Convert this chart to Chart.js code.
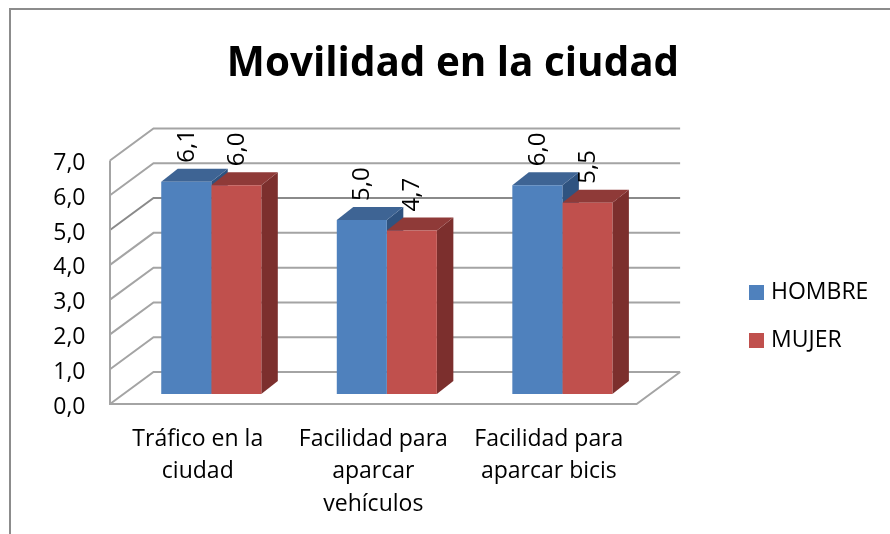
<!DOCTYPE html>
<html><head><meta charset="utf-8">
<script src="https://cdn.jsdelivr.net/npm/chart.js@4"></script>
<style>html,body{margin:0;padding:0;background:#fff}canvas{display:block}</style>
</head><body><canvas id="c" width="890" height="534"></canvas>
<script>
const categories = [["Tráfico en la","ciudad"],["Facilidad para","aparcar","vehículos"],["Facilidad para","aparcar bicis"]];
const hombre = [6.1,5.0,6.0];
const mujer = [6.0,4.7,5.5];
const titleText = "Movilidad en la ciudad";
const FONT = '"Open Sans", sans-serif';
const fmt = v => Number(v).toFixed(1).replace('.',',');
const faces = [{top:'#3e6494',side:'#2f5380'},{top:'#8f3a38',side:'#7c2f2d'}];
const front = {dx:-13.5,dy:10}, back = {dx:30,dy:-22}, depth = {dx:16.5,dy:-13};

const scene = {
  id:'scene',
  afterLayout(chart){
    const l = chart.legend, w = l.right-l.left;
    l.left = 728.5; l.right = 728.5+w;
    l.top += 49.5; l.bottom += 49.5;
    chart.titleBlock.left = 16; chart.titleBlock.right = 890;
  },
  beforeDraw(chart){
    const c = chart.ctx; c.save();
    c.strokeStyle='#8c8c8c'; c.lineWidth=2;
    c.beginPath(); c.moveTo(10,534); c.lineTo(10,9); c.lineTo(890,9); c.stroke();
    c.restore();
  },
  beforeDatasetsDraw(chart){
    const c = chart.ctx, y = chart.scales.y, a = chart.chartArea;
    c.save(); c.lineWidth=2;
    y.ticks.forEach(t=>{
      const p = y.getPixelForValue(t.value);
      c.strokeStyle = t.value===5 ? '#8a8a8a' : '#a4a4a4';
      c.beginPath();
      c.moveTo(a.left+front.dx,p+front.dy);
      c.lineTo(a.left+back.dx,p+back.dy);
      c.lineTo(a.right+back.dx,p+back.dy);
      c.stroke();
    });
    c.strokeStyle='#a4a4a4';
    const p0=y.getPixelForValue(0), p7=y.getPixelForValue(y.max);
    c.beginPath();
    c.moveTo(a.left+front.dx,p7+front.dy);
    c.lineTo(a.left+front.dx,p0+front.dy);
    c.lineTo(a.right+front.dx,p0+front.dy);
    c.lineTo(a.right+back.dx,p0+back.dy);
    c.stroke();
    chart.data.datasets.forEach((d,i)=>{
      chart.getDatasetMeta(i).data.forEach(b=>{
        const L=b.x-b.width/2,R=b.x+b.width/2,T=b.y,B=b.base;
        c.fillStyle=faces[i].side;
        c.beginPath();c.moveTo(R,T);c.lineTo(R+depth.dx,T+depth.dy);c.lineTo(R+depth.dx,B+depth.dy);c.lineTo(R,B);c.closePath();c.fill();
        c.fillStyle=faces[i].top;
        c.beginPath();c.moveTo(L,T);c.lineTo(L+depth.dx,T+depth.dy);c.lineTo(R+depth.dx,T+depth.dy);c.lineTo(R,T);c.closePath();c.fill();
      });
    });
    c.restore();
  },
  afterDatasetsDraw(chart){
    const c = chart.ctx;
    c.save(); c.fillStyle='#000'; c.font='24px '+FONT; c.textAlign='left'; c.textBaseline='middle';
    chart.data.datasets.forEach((d,i)=>{
      chart.getDatasetMeta(i).data.forEach((b,j)=>{
        c.save(); c.translate(b.x+0.5,b.y-19); c.rotate(-Math.PI/2);
        c.fillText(fmt(d.data[j]),0,0); c.restore();
      });
    });
    c.restore();
  }
};

new Chart(document.getElementById('c'),{
  type:'bar',
  data:{labels:categories,datasets:[
    {label:'HOMBRE',data:hombre,backgroundColor:'#4f81bd',categoryPercentage:0.57,barPercentage:1},
    {label:'MUJER',data:mujer,backgroundColor:'#c0504d',categoryPercentage:0.57,barPercentage:1}
  ]},
  options:{
    responsive:false,animation:false,
    layout:{padding:{left:16,right:90,top:0,bottom:0}},
    scales:{
      x:{grid:{display:false,drawTicks:false},border:{display:false},
        afterFit(s){s.height=140;},
        ticks:{color:'#000',font:{family:FONT,size:23,lineHeight:1.41},maxRotation:0,minRotation:0,autoSkip:false,labelOffset:-13.5,padding:29}},
      y:{min:0,max:7,grid:{display:false,drawTicks:false},border:{display:false},
        afterFit(s){s.width=107.5;},
        ticks:{stepSize:1,color:'#000',font:{family:FONT,size:23},padding:38,labelOffset:13,callback:v=>fmt(v)}}
    },
    plugins:{
      tooltip:{enabled:false},
      title:{display:true,text:titleText,color:'#000',font:{family:FONT,size:40.4,weight:'bold'},padding:{top:40,bottom:62}},
      legend:{position:'right',labels:{color:'#000',font:{family:FONT,size:23},boxWidth:6,boxHeight:15,padding:25,usePointStyle:true,pointStyle:'rect'}}
    }
  },
  plugins:[scene]
});
</script></body></html>
